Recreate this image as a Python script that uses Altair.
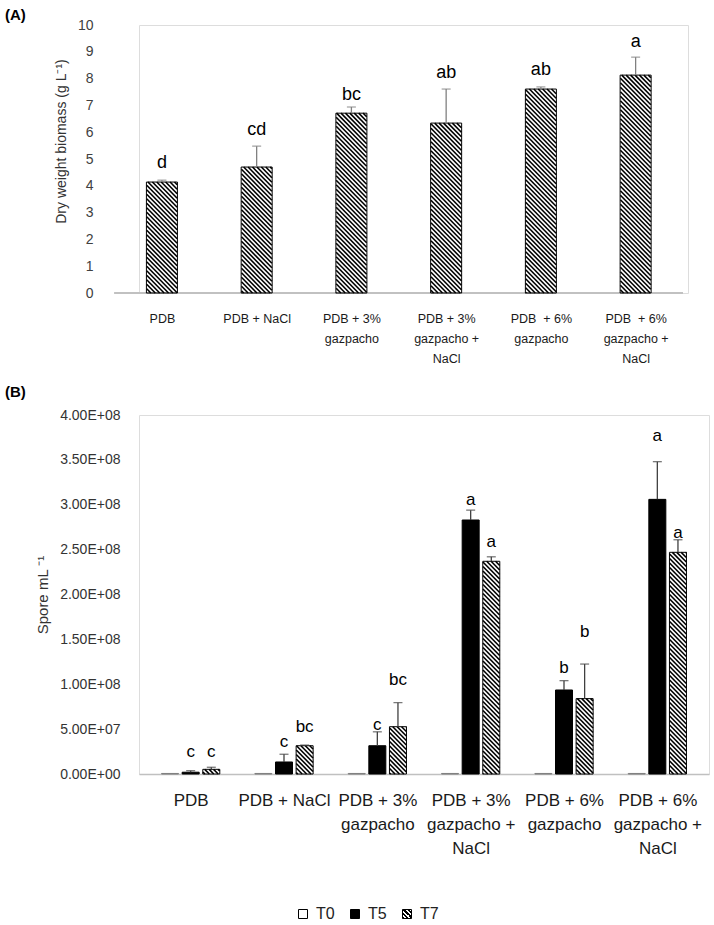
import json
import numpy as np
import pandas as pd
import altair as alt

# ---------------- data ----------------
categories = ["PDB", "PDB + NaCl", "PDB + 3% gazpacho", "PDB + 3% gazpacho + NaCl",
              "PDB + 6% gazpacho", "PDB + 6% gazpacho + NaCl"]
label_lines_a = [["PDB"], ["PDB + NaCl"], ["PDB + 3%", "gazpacho"],
                 ["PDB + 3%", "gazpacho +", "NaCl"], ["PDB\u00a0 + 6%", "gazpacho"],
                 ["PDB\u00a0 + 6%", "gazpacho +", "NaCl"]]
label_lines_b = [["PDB"], ["PDB + NaCl"], ["PDB + 3%", "gazpacho"],
                 ["PDB + 3%", "gazpacho +", "NaCl"], ["PDB + 6%", "gazpacho"],
                 ["PDB + 6%", "gazpacho +", "NaCl"]]

biomass_mean = [4.14, 4.70, 6.71, 6.34, 7.61, 8.13]
biomass_err = [0.07, 0.78, 0.23, 1.27, 0.08, 0.67]
biomass_letters = ["d", "cd", "bc", "ab", "ab", "a"]
biomass_letter_y = [4.85, 6.08, 7.39, 8.21, 8.32, 9.37]
biomass_ticks = [0, 1, 2, 3, 4, 5, 6, 7, 8, 9, 10]

series = ["T0", "T5", "T7"]
spore_t0 = [6e5, 6e5, 6e5, 6e5, 6e5, 6e5]
spore_t5 = [2.0e6, 1.34e7, 3.15e7, 2.83e8, 9.36e7, 3.06e8]
spore_t5_err = [1.7e6, 8.6e6, 1.55e7, 1.1e7, 1.04e7, 4.2e7]
spore_t7 = [5.2e6, 3.15e7, 5.27e7, 2.37e8, 8.4e7, 2.47e8]
spore_t7_err = [2.3e6, 0.7e6, 2.68e7, 0.5e7, 3.85e7, 1.4e7]
spore_t5_letters = ["c", "c", "c", "a", "b", "a"]
spore_t5_letter_y = [0.245e8, 0.357e8, 0.546e8, 3.053e8, 1.181e8, 3.766e8]
spore_t7_letters = ["c", "bc", "bc", "a", "b", "a"]
spore_t7_letter_y = [0.245e8, 0.524e8, 1.047e8, 2.585e8, 1.582e8, 2.685e8]
spore_tick_values = [0, 5e7, 1e8, 1.5e8, 2e8, 2.5e8, 3e8, 3.5e8, 4e8]
spore_tick_labels = ["0.00E+00", "5.00E+07", "1.00E+08", "1.50E+08", "2.00E+08",
                     "2.50E+08", "3.00E+08", "3.50E+08", "4.00E+08"]

# ---------------- layout / style ----------------
FONT = "Liberation Sans"
N = len(categories)
UX_A = 96.5               # px per category, panel A
SHIFT_A = 30              # panel A axis starts this many px left of the plot origin
WA = UX_A * N - SHIFT_A
HA = 268
WB, HB = 570, 359
XMIN_A = -0.5 + SHIFT_A / UX_A
YMAX_A = 10
YMAX_B = 4e8
BAR_A = 31
BAR_B = 17
GROUP_OFF = 0.221
HATCH_PERIOD = 4.5
HATCH_WIDTH = 1.6
AXIS_GREY = "#c0c0c0"


def hatch(xcs, tops, xmin, ux, H, ymax, bar_px):
    """Diagonal hatch segments clipped to each bar, returned in data units."""
    uy = H / ymax
    rows = []
    for xc, v in zip(xcs, tops):
        L = (xc - xmin) * ux - bar_px / 2
        R = L + bar_px
        T = H - v * uy
        Bt = H
        c = np.floor((T - R) / HATCH_PERIOD) * HATCH_PERIOD
        while c <= Bt - L:
            xs = max(L, T - c)
            xe = min(R, Bt - c)
            if xe - xs > 0.2:
                rows.append(dict(hx=xs / ux + xmin, hy=(H - (xs + c)) / uy,
                                 hx2=xe / ux + xmin, hy2=(H - (xe + c)) / uy))
            c += HATCH_PERIOD
    return pd.DataFrame(rows)


# ---------------- panel A ----------------
dfA = pd.DataFrame({
    "pos": list(range(N)),
    "mean": biomass_mean,
    "top": [m + e for m, e in zip(biomass_mean, biomass_err)],
    "letter": biomass_letters,
    "ly": biomass_letter_y,
})
hatchA_df = hatch(list(range(N)), biomass_mean, XMIN_A, UX_A, HA, YMAX_A, BAR_A)

xA = alt.Scale(domain=[XMIN_A, N - 0.5], nice=False, zero=False)
yA = alt.Scale(domain=[0, YMAX_A], nice=False)

x_axis_a = alt.Axis(values=list(range(N)),
                    labelExpr=f"{json.dumps(label_lines_a)}[round(datum.value)]",
                    title=None, domain=False, ticks=False,
                    grid=False, labelFontSize=12.5, labelPadding=19, labelLineHeight=20,
                    labelFlush=False, labelOverlap=False, labelColor="#1a1a1a",
                    labelFont=FONT)
y_axis_a = alt.Axis(values=biomass_ticks, tickCount=11, format="d",
                    title="Dry weight biomass (g L⁻¹)",
                    domain=False, ticks=False, grid=False, labelFontSize=14,
                    labelPadding=46, titlePadding=9, titleFontSize=14,
                    titleFontWeight="normal", titleY=116, labelColor="#404040",
                    titleColor="#333333", labelFont=FONT, titleFont=FONT,
                    labelFlush=False, labelOverlap=False)


def XA(f):
    return alt.X(f, type="quantitative", scale=xA, axis=x_axis_a)


def YA(f):
    return alt.Y(f, type="quantitative", scale=yA, axis=y_axis_a)


baseA = alt.Chart(dfA)
barsA = baseA.mark_bar(size=BAR_A, fill="white").encode(x=XA("pos"), y=YA("mean"))
baselineA = baseA.mark_rule(color=AXIS_GREY, strokeWidth=1.5).encode(
    x=alt.datum(-0.5), x2=alt.datum(N - 0.5), y=alt.datum(0))
hatchA = alt.Chart(hatchA_df).mark_rule(color="black", strokeWidth=HATCH_WIDTH).encode(
    x=XA("hx"), y=YA("hy"), x2="hx2:Q", y2="hy2:Q")
outlineA = baseA.mark_bar(size=BAR_A, fillOpacity=0, stroke="black", strokeWidth=1).encode(
    x=XA("pos"), y=YA("mean"))
errA = baseA.mark_rule(color="#808080", strokeWidth=1.3).encode(
    x=XA("pos"), y=YA("mean"), y2="top:Q")
capA = baseA.mark_tick(orient="horizontal", size=9, thickness=1.3, color="#808080").encode(
    x=XA("pos"), y=YA("top"))
lettersA = baseA.mark_text(fontSize=18, font=FONT, baseline="middle", color="black").encode(
    x=XA("pos"), y=YA("ly"), text="letter:N")
tagA = alt.Chart(pd.DataFrame({"t": ["(A)"]})).mark_text(
    align="left", baseline="middle", fontWeight="bold", fontSize=15, font=FONT,
    color="black").encode(x=alt.value(-134), y=alt.value(-10), text="t:N")

panelA = alt.layer(barsA, baselineA, hatchA, outlineA, errA, capA, lettersA,
                   tagA).properties(width=WA, height=HA)

# ---------------- panel B ----------------
offsets = {"T0": -GROUP_OFF, "T5": 0.0, "T7": GROUP_OFF}
rowsB = []
for s, vals, errs in [("T0", spore_t0, [0] * N), ("T5", spore_t5, spore_t5_err),
                      ("T7", spore_t7, spore_t7_err)]:
    for i in range(N):
        rowsB.append({"series": s, "xpos": i + offsets[s], "val": vals[i],
                      "top": vals[i] + errs[i], "err": errs[i]})
dfB = pd.DataFrame(rowsB)

rowsL = []
for s, lets, ys in [("T5", spore_t5_letters, spore_t5_letter_y),
                    ("T7", spore_t7_letters, spore_t7_letter_y)]:
    for i in range(N):
        rowsL.append({"xpos": i + offsets[s], "ly": ys[i], "letter": lets[i]})
dfBL = pd.DataFrame(rowsL)

hatchB_df = hatch([i + GROUP_OFF for i in range(N)], spore_t7, -0.5, WB / N, HB, YMAX_B,
                  BAR_B)

xB = alt.Scale(domain=[-0.5, N - 0.5], nice=False, zero=False)
yB = alt.Scale(domain=[0, YMAX_B], nice=False)

x_axis_b = alt.Axis(values=list(range(N)),
                    labelExpr=f"{json.dumps(label_lines_b)}[round(datum.value)]",
                    title=None, domainColor=AXIS_GREY, domainWidth=1.5, ticks=False,
                    grid=False, labelFontSize=17, labelPadding=18, labelLineHeight=24,
                    labelFlush=False, labelOverlap=False, labelColor="#1a1a1a",
                    labelFont=FONT)
y_axis_b = alt.Axis(values=spore_tick_values, tickCount=len(spore_tick_values),
                    labelExpr=f"{json.dumps(spore_tick_labels)}[round(datum.value / 5e7)]",
                    title="Spore mL ⁻¹", domain=False, ticks=False, grid=False,
                    labelFontSize=14, labelPadding=19, titlePadding=9, titleFontSize=15,
                    titleFontWeight="normal", labelColor="#333333", titleColor="#333333",
                    labelFont=FONT, titleFont=FONT, labelFlush=False, labelOverlap=False)


def XB(f):
    return alt.X(f, type="quantitative", scale=xB, axis=x_axis_b)


def YB(f):
    return alt.Y(f, type="quantitative", scale=yB, axis=y_axis_b)


baseB = alt.Chart(dfB)
t0B = baseB.transform_filter("datum.series === 'T0'").mark_bar(
    size=BAR_B, fill="white", stroke="#7f7f7f", strokeWidth=1).encode(
    x=XB("xpos"), y=YB("val"))
t5B = baseB.transform_filter("datum.series === 'T5'").mark_bar(
    size=BAR_B, fill="black", stroke="black", strokeWidth=1).encode(x=XB("xpos"), y=YB("val"))
t7B = baseB.transform_filter("datum.series === 'T7'").mark_bar(
    size=BAR_B, fill="white").encode(x=XB("xpos"), y=YB("val"))
hatchB = alt.Chart(hatchB_df).mark_rule(color="black", strokeWidth=HATCH_WIDTH).encode(
    x=XB("hx"), y=YB("hy"), x2="hx2:Q", y2="hy2:Q")
t7outB = baseB.transform_filter("datum.series === 'T7'").mark_bar(
    size=BAR_B, fillOpacity=0, stroke="black", strokeWidth=1).encode(x=XB("xpos"), y=YB("val"))
errB = baseB.transform_filter("datum.err > 0").mark_rule(color="#404040", strokeWidth=1.3).encode(
    x=XB("xpos"), y=YB("val"), y2="top:Q")
capB = baseB.transform_filter("datum.err > 0").mark_tick(
    orient="horizontal", size=9, thickness=1.3, color="#404040").encode(
    x=XB("xpos"), y=YB("top"))
lettersB = alt.Chart(dfBL).mark_text(fontSize=17, font=FONT, baseline="middle",
                                     color="black").encode(
    x=XB("xpos"), y=YB("ly"), text="letter:N")
tagB = alt.Chart(pd.DataFrame({"t": ["(B)"]})).mark_text(
    align="left", baseline="middle", fontWeight="bold", fontSize=15, font=FONT,
    color="black").encode(x=alt.value(-134), y=alt.value(-23), text="t:N")

n_stripes = 4
stops = []
for j in range(n_stripes):
    s0 = j / n_stripes
    m = s0 + 0.5 / n_stripes
    e = (j + 1) / n_stripes
    stops += [(s0, "black"), (m, "black"), (m, "white"), (e, "white")]
stops_js = ", ".join(f"{{offset: {o:.4f}, color: '{c}'}}" for o, c in stops)
grad_expr = ("{gradient: 'linear', x1: 0, y1: 1, x2: 1, y2: 0, stops: [" + stops_js + "]}")

legend_layer = baseB.mark_square(opacity=0, size=1).encode(
    x=XB("xpos"), y=YB("val"),
    color=alt.Color("series:N",
                    scale=alt.Scale(domain=series,
                                    range=["white", "black", {"expr": grad_expr}]),
                    legend=alt.Legend(title=None, orient="none", direction="horizontal",
                                      legendX=156, legendY=491, symbolType="square",
                                      symbolSize=81, symbolStrokeColor="black",
                                      symbolStrokeWidth=1, symbolOpacity=1,
                                      labelFontSize=16, labelFont=FONT,
                                      labelColor="#222222", labelOffset=5,
                                      columnPadding=12)))

panelB = alt.layer(t0B, t5B, t7B, hatchB, t7outB, errB, capB, lettersB, tagB,
                   legend_layer).properties(width=WB, height=HB)

chart = alt.vconcat(panelA, panelB, spacing=19).resolve_scale(
    color="independent").resolve_legend(color="independent").properties(
    padding={"left": 4, "top": 7, "right": 0, "bottom": 0}
).configure_view(stroke=None).configure(background="white")

chart.save("out.html", embed_options={"renderer": "svg", "actions": False})
